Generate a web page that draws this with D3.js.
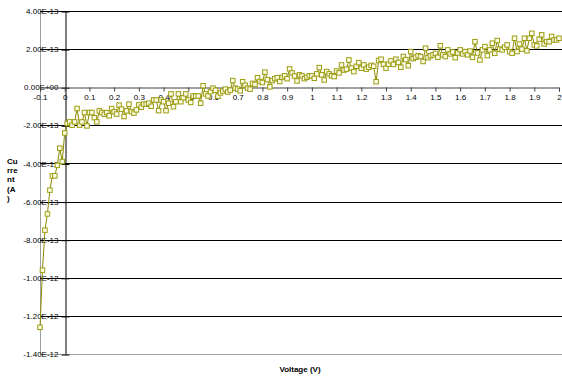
<!DOCTYPE html>
<html>
<head>
<meta charset="utf-8">
<script src="https://cdn.jsdelivr.net/npm/d3@7"></script>
<style>
  html, body { margin: 0; padding: 0; background: #fff; }
  svg { display: block; font-family: "Liberation Sans", Arial, sans-serif; }
</style>
</head>
<body>
<svg id="chart" width="562" height="378"></svg>
<script>
// Voltage sweep (V)
const voltage = [
  -0.1, -0.09, -0.08, -0.07, -0.06, -0.05, -0.04, -0.03, -0.02, -0.01,
  0.0, 0.01, 0.02, 0.03, 0.04, 0.05, 0.06, 0.07, 0.08, 0.09,
  0.1, 0.11, 0.12, 0.13, 0.14, 0.15, 0.16, 0.17, 0.18, 0.19,
  0.2, 0.21, 0.22, 0.23, 0.24, 0.25, 0.26, 0.27, 0.28, 0.29,
  0.3, 0.31, 0.32, 0.33, 0.34, 0.35, 0.36, 0.37, 0.38, 0.39,
  0.4, 0.41, 0.42, 0.43, 0.44, 0.45, 0.46, 0.47, 0.48, 0.49,
  0.5, 0.51, 0.52, 0.53, 0.54, 0.55, 0.56, 0.57, 0.58, 0.59,
  0.6, 0.61, 0.62, 0.63, 0.64, 0.65, 0.66, 0.67, 0.68, 0.69,
  0.7, 0.71, 0.72, 0.73, 0.74, 0.75, 0.76, 0.77, 0.78, 0.79,
  0.8, 0.81, 0.82, 0.83, 0.84, 0.85, 0.86, 0.87, 0.88, 0.89,
  0.9, 0.91, 0.92, 0.93, 0.94, 0.95, 0.96, 0.97, 0.98, 0.99,
  1.0, 1.01, 1.02, 1.03, 1.04, 1.05, 1.06, 1.07, 1.08, 1.09,
  1.1, 1.11, 1.12, 1.13, 1.14, 1.15, 1.16, 1.17, 1.18, 1.19,
  1.2, 1.21, 1.22, 1.23, 1.24, 1.25, 1.26, 1.27, 1.28, 1.29,
  1.3, 1.31, 1.32, 1.33, 1.34, 1.35, 1.36, 1.37, 1.38, 1.39,
  1.4, 1.41, 1.42, 1.43, 1.44, 1.45, 1.46, 1.47, 1.48, 1.49,
  1.5, 1.51, 1.52, 1.53, 1.54, 1.55, 1.56, 1.57, 1.58, 1.59,
  1.6, 1.61, 1.62, 1.63, 1.64, 1.65, 1.66, 1.67, 1.68, 1.69,
  1.7, 1.71, 1.72, 1.73, 1.74, 1.75, 1.76, 1.77, 1.78, 1.79,
  1.8, 1.81, 1.82, 1.83, 1.84, 1.85, 1.86, 1.87, 1.88, 1.89,
  1.9, 1.91, 1.92, 1.93, 1.94, 1.95, 1.96, 1.97, 1.98, 1.99,
  2.0
];

// Measured current (A)
const current = [
  -12.6e-13, -9.6e-13, -7.5e-13, -6.65e-13, -5.4e-13, -4.65e-13, -4.65e-13, -4.1e-13, -3.2e-13, -3.9e-13,
  -2.4e-13, -1.9e-13, -1.82e-13, -1.99e-13, -1.82e-13, -1.12e-13, -1.99e-13, -1.82e-13, -1.33e-13, -2.03e-13,
  -1.33e-13, -1.33e-13, -1.6e-13, -1.82e-13, -1.24e-13, -1.33e-13, -1.42e-13, -1.33e-13, -1.5e-13, -1.12e-13,
  -1.29e-13, -1.41e-13, -0.94e-13, -1.15e-13, -1.54e-13, -1.24e-13, -0.89e-13, -1.28e-13, -1.36e-13, -1.19e-13,
  -0.93e-13, -1.05e-13, -0.89e-13, -0.89e-13, -0.84e-13, -1.0e-13, -0.67e-13, -0.67e-13, -1.23e-13, -0.67e-13,
  -0.76e-13, -1.23e-13, -0.84e-13, -0.35e-13, -1.02e-13, -0.76e-13, -0.35e-13, -0.76e-13, -0.55e-13, -0.35e-13,
  -0.67e-13, -0.8e-13, -0.46e-13, -0.46e-13, -0.46e-13, -0.84e-13, 0.08e-13, -0.35e-13, -0.46e-13, -0.23e-13,
  -0.05e-13, -0.16e-13, -0.47e-13, -0.3e-13, -0.2e-13, -0.1e-13, -0.25e-13, -0.15e-13, 0.35e-13, -0.05e-13,
  -0.1e-13, -0.19e-13, 0.29e-13, 0.1e-13, -0.05e-13, -0.1e-13, 0.2e-13, 0.15e-13, 0.5e-13, 0.3e-13,
  0.25e-13, 0.79e-13, 0.4e-13, 0.02e-13, 0.35e-13, 0.45e-13, 0.5e-13, 0.3e-13, 0.52e-13, 0.6e-13,
  0.45e-13, 0.96e-13, 0.75e-13, 0.59e-13, 0.33e-13, 0.65e-13, 0.59e-13, 0.45e-13, 0.52e-13, 0.6e-13,
  0.6e-13, 0.47e-13, 0.7e-13, 1.03e-13, 0.65e-13, 0.38e-13, 0.82e-13, 0.7e-13, 0.6e-13, 0.56e-13,
  0.85e-13, 0.75e-13, 1.17e-13, 0.9e-13, 0.95e-13, 1.43e-13, 1.0e-13, 0.82e-13, 1.1e-13, 1.29e-13,
  1.0e-13, 1.17e-13, 0.95e-13, 1.05e-13, 1.15e-13, 1.1e-13, 0.29e-13, 1.4e-13, 1.47e-13, 1.2e-13,
  1.0e-13, 1.21e-13, 1.38e-13, 1.2e-13, 1.47e-13, 1.3e-13, 1.05e-13, 1.61e-13, 1.45e-13, 1.13e-13,
  1.87e-13, 1.5e-13, 1.57e-13, 1.65e-13, 1.61e-13, 1.35e-13, 2.05e-13, 1.55e-13, 1.65e-13, 1.7e-13,
  1.78e-13, 1.57e-13, 2.18e-13, 1.7e-13, 1.61e-13, 1.96e-13, 1.75e-13, 1.85e-13, 1.55e-13, 1.8e-13,
  1.96e-13, 1.75e-13, 1.87e-13, 1.7e-13, 1.9e-13, 1.57e-13, 2.39e-13, 1.8e-13, 1.43e-13, 1.96e-13,
  2.13e-13, 1.66e-13, 1.96e-13, 2.31e-13, 1.78e-13, 2.45e-13, 2.0e-13, 1.96e-13, 2.1e-13, 2.22e-13,
  1.87e-13, 1.78e-13, 2.57e-13, 1.87e-13, 2.27e-13, 2.0e-13, 2.57e-13, 1.91e-13, 2.57e-13, 2.83e-13,
  2.22e-13, 2.17e-13, 2.52e-13, 2.75e-13, 2.27e-13, 2.4e-13, 2.39e-13, 2.66e-13, 2.48e-13, 2.48e-13,
  2.57e-13
];

// Axis ticks
const xTicks = [-0.1, 0, 0.1, 0.2, 0.3, 0.4, 0.5, 0.6, 0.7, 0.8, 0.9, 1, 1.1, 1.2, 1.3, 1.4, 1.5, 1.6, 1.7, 1.8, 1.9, 2];
const xTickLabels = ["-0.1", "0", "0.1", "0.2", "0.3", "0.4", "0.5", "0.6", "0.7", "0.8", "0.9", "1", "1.1", "1.2", "1.3", "1.4", "1.5", "1.6", "1.7", "1.8", "1.9", "2"];
const yTicks = [4e-13, 2e-13, 0, -2e-13, -4e-13, -6e-13, -8e-13, -1e-12, -1.2e-12, -1.4e-12];
const yTickLabels = ["4.00E-13", "2.00E-13", "0.00E+00", "-2.00E-13", "-4.00E-13", "-6.00E-13", "-8.00E-13", "-1.00E-12", "-1.20E-12", "-1.40E-12"];

const yTitleLines = ["Cu", "rre", "nt", "(A", ")"];
const xTitle = "Voltage (V)";

const svg = d3.select("#chart");
const plot = { left: 40, right: 559, top: 11, bottom: 354 };

const x = d3.scaleLinear().domain([-0.1, 2]).range([plot.left, plot.right]);
const y = d3.scaleLinear().domain([-1.4e-12, 4e-13]).range([plot.bottom, plot.top]);

// Plot area frame
svg.append("rect")
  .attr("x", plot.left + 0.5).attr("y", plot.top + 0.5)
  .attr("width", 562 - plot.left).attr("height", plot.bottom - plot.top)
  .attr("fill", "none").attr("stroke", "#a0a0a0").attr("stroke-width", 1);

// Horizontal gridlines
svg.append("g").selectAll("line")
  .data(yTicks.filter(d => d !== 0 && d !== -1.4e-12))
  .join("line")
  .attr("x1", plot.left).attr("x2", 562)
  .attr("y1", d => Math.round(y(d)) + 0.5).attr("y2", d => Math.round(y(d)) + 0.5)
  .attr("stroke", "#000").attr("stroke-width", 1);

// Y axis at V = 0
const yAxis = d3.axisLeft(y)
  .tickValues(yTicks)
  .tickSize(0)
  .tickPadding(0)
  .tickFormat((d, i) => yTickLabels[i]);
const gy = svg.append("g").attr("transform", `translate(${Math.round(x(0)) + 0.5},0)`).call(yAxis);
gy.select(".domain").attr("stroke", "#000");
gy.selectAll(".tick line").remove();
gy.selectAll(".tick").append("line")
  .attr("x1", -4).attr("x2", 4).attr("y1", 0.5).attr("y2", 0.5)
  .attr("stroke", "#000");
gy.selectAll(".tick text")
  .attr("x", -7)
  .attr("font-size", 8)
  .attr("font-family", "'Liberation Sans', Arial, sans-serif")
  .attr("fill", "#000");

// X axis at I = 0
const xAxis = d3.axisBottom(x)
  .tickValues(xTicks)
  .tickSize(4)
  .tickPadding(3)
  .tickFormat((d, i) => xTickLabels[i]);
const gx = svg.append("g").attr("transform", `translate(0,${Math.round(y(0)) + 0.5})`).call(xAxis);
gx.select(".domain").attr("stroke", "#404040");
gx.selectAll(".tick line").attr("stroke", "#404040");
gx.selectAll(".tick text")
  .attr("font-size", 8)
  .attr("font-family", "'Liberation Sans', Arial, sans-serif")
  .attr("fill", "#000");

// I-V curve
const pts = voltage.map((v, i) => [v, current[i]]);
const line = d3.line().x(d => x(d[0])).y(d => y(d[1]));
svg.append("path")
  .datum(pts)
  .attr("d", line)
  .attr("fill", "none")
  .attr("stroke", "#8a8a00")
  .attr("stroke-width", 1);

const m = 4.5;
svg.append("g").selectAll("rect")
  .data(pts)
  .join("rect")
  .attr("x", d => x(d[0]) - m / 2)
  .attr("y", d => y(d[1]) - m / 2)
  .attr("width", m).attr("height", m)
  .attr("fill", "#fbfbe6")
  .attr("stroke", "#9c9c10")
  .attr("stroke-width", 1);

// Axis titles
svg.append("text")
  .attr("x", 300).attr("y", 372)
  .attr("text-anchor", "middle")
  .attr("font-size", 8).attr("font-weight", "bold")
  .text(xTitle);

svg.append("g").selectAll("text")
  .data(yTitleLines)
  .join("text")
  .attr("x", 7)
  .attr("y", (d, i) => 164 + i * 9.2)
  .attr("font-size", 8).attr("font-weight", "bold")
  .text(d => d);
</script>
</body>
</html>
